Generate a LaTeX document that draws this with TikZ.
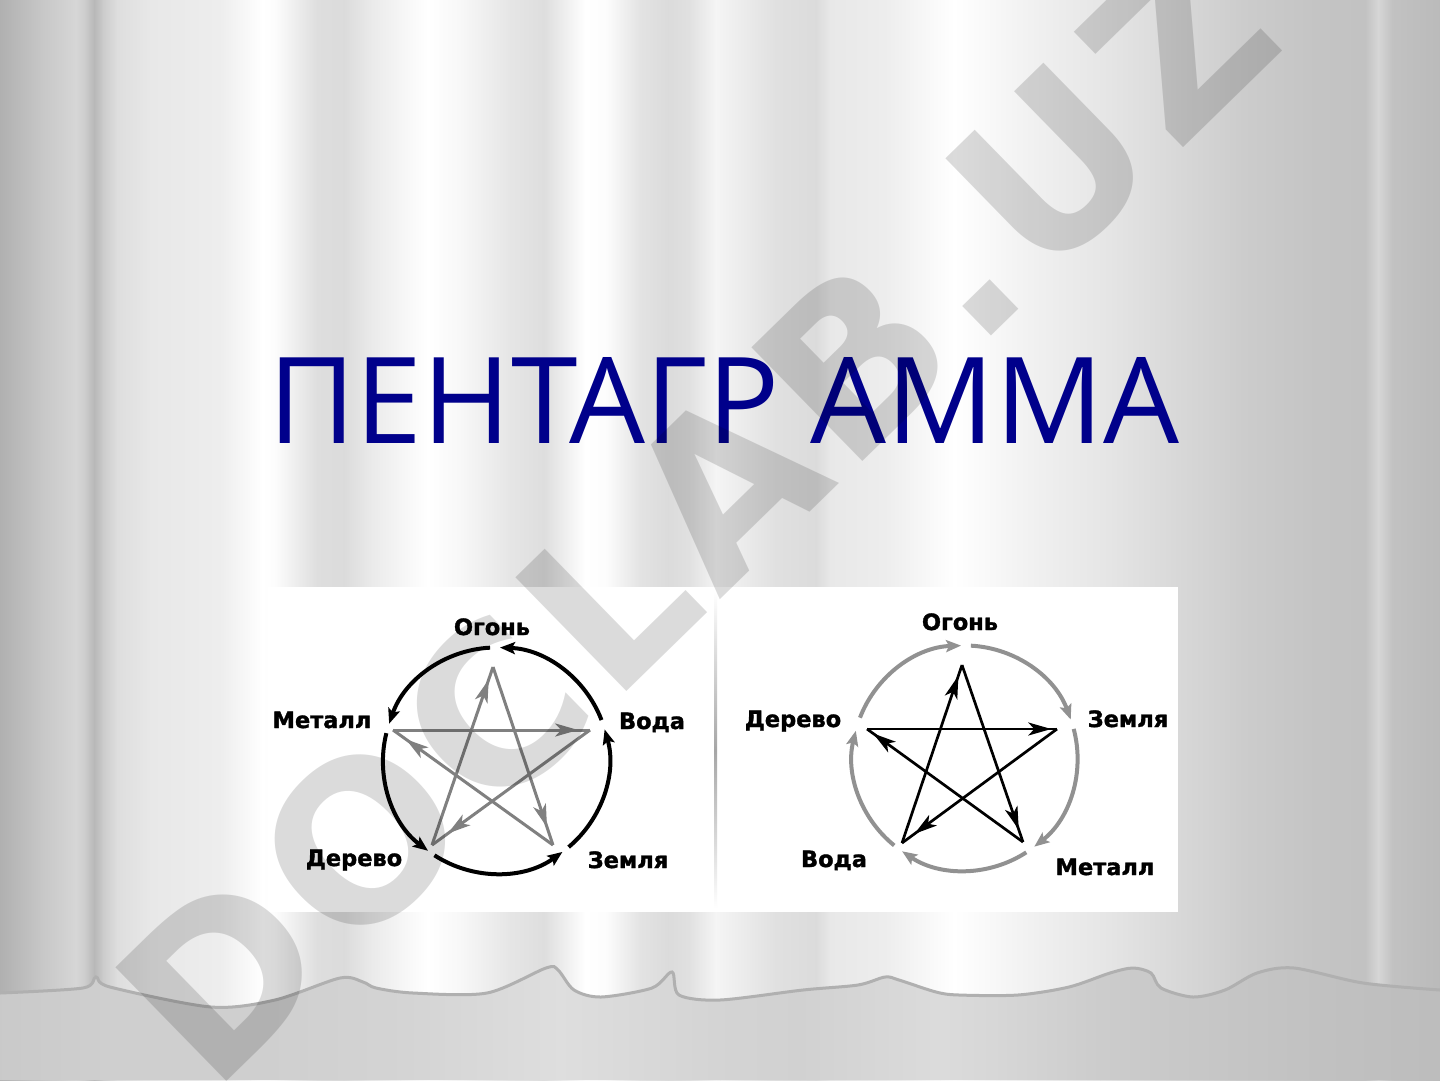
\documentclass[tikz,border=0pt]{standalone}
\usepackage{fontspec}
\newfontfamily\lblfamily{DejaVu Sans}[BoldFeatures={FakeBold=1.5}]
\newfontfamily\titlefamily{Open Sans}
\newfontfamily\wmfamily{DejaVu Sans}[LetterSpace=5]
\usetikzlibrary{arrows.meta,decorations.markings}
\definecolor{titleblue}{RGB}{0,0,139}
\definecolor{stargray}{RGB}{128,128,128}
\definecolor{ringgray}{RGB}{145,145,145}
\definecolor{wavecol}{RGB}{176,176,176}
\tikzset{
  lbl/.style={font=\lblfamily\bfseries\fontsize{22.5}{27}\selectfont, inner sep=0pt, anchor=base, text=black},
  ringL/.style={draw=black, line width=4pt, -{Stealth[length=15pt,width=12pt,inset=3pt]}},
  ringR/.style={draw=ringgray, line width=4pt, -{Stealth[length=15pt,width=12pt,inset=3pt]}},
  starar/.style={postaction={decorate}, decoration={markings, mark=at position #1 with {\arrow{Stealth[length=23pt,width=13pt,inset=6pt]}}}},
  starL/.style={draw=stargray, line width=3pt},
  starR/.style={draw=black, line width=2.7pt},
  titlestyle/.style={font=\titlefamily\fontsize{120}{130}\selectfont, text=titleblue, inner sep=0pt, anchor=base},
  wmstyle/.style={font=\wmfamily\bfseries\fontsize{218}{230}\selectfont, text=black, opacity=0.14, inner sep=0pt, rotate=44.3}
}
\newcommand{\elemlabel}[4]{\node[lbl] (#1) at (#2,#3) {#4};}
\begin{document}
\begin{tikzpicture}[x=1pt,y=-1pt]
\useasboundingbox (0,0) rectangle (1440,1080);
% curtain bands
\foreach \xa/\pa/\xb/\pb in {0/69/41/78, 41/78/76/84, 76/84/85/80, 85/80/94/72, 94/72/103/80, 103/80/117/87, 117/87/151/91, 151/91/220/93, 220/93/262/100, 262/100/275/99, 275/99/317/87, 317/87/344/86, 344/86/372/92, 372/92/427/100, 427/100/461/97, 461/97/510/90, 510/90/544/87, 544/87/585/100, 585/100/606/99, 606/99/640/89, 640/89/668/86, 668/86/689/88, 689/88/716/96, 716/96/775/88, 775/88/816/86, 816/86/830/91, 830/91/885/93, 885/93/954/100, 954/100/968/99, 968/99/1037/94, 1037/94/1106/90, 1106/90/1174/85, 1174/85/1243/80, 1243/80/1312/77, 1312/77/1365/76, 1365/76/1378/84, 1378/84/1392/76, 1392/76/1440/73}
  {\shade[left color=white!\pa!black, right color=white!\pb!black] (\xa,0) rectangle (\xb+0.6,1080);}
% lower part of the curtain
\begin{scope}
\clip plot[smooth, tension=0.5] coordinates {(0,993) (83,988) (96,977) (110,987) (211,1007) (275,1000) (340,978) (363,982) (376,988) (413,993) (487,993) (546,968) (558,970) (574,990) (601,997) (652,988) (672,972) (679,995) (720,1000) (803,990) (858,985) (885,977) (899,980) (936,992) (959,995) (1018,995) (1069,987) (1110,973) (1133,968) (1151,973) (1161,988) (1193,997) (1225,990) (1257,973) (1294,968) (1363,983) (1440,990)} -- (1440,1080) -- (0,1080) -- cycle;
\foreach \xa/\pa/\xb/\pb in {0/79/100/81, 100/81/250/81, 250/81/400/83, 400/83/560/87, 560/87/640/85, 640/85/720/83, 720/83/800/82, 800/82/940/86, 940/86/1000/84, 1000/84/1100/80, 1100/80/1300/76, 1300/76/1440/74}
  {\shade[left color=white!\pa!black, right color=white!\pb!black] (\xa,900) rectangle (\xb+0.6,1080);}
\end{scope}
\draw[wavecol, line width=3pt] plot[smooth, tension=0.5] coordinates {(0,993) (83,988) (96,977) (110,987) (211,1007) (275,1000) (340,978) (363,982) (376,988) (413,993) (487,993) (546,968) (558,970) (574,990) (601,997) (652,988) (672,972) (679,995) (720,1000) (803,990) (858,985) (885,977) (899,980) (936,992) (959,995) (1018,995) (1069,987) (1110,973) (1133,968) (1151,973) (1161,988) (1193,997) (1225,990) (1257,973) (1294,968) (1363,983) (1440,990)};
% title
\node[titlestyle] (title) at (724,443) {ПЕНТАГР АММА};
% white panel and divider
\fill[white] (268,587) rectangle (1178,912);
\shade[top color=white, bottom color=white, middle color=black!35] (714.5,592) rectangle (717,908);
% ---------- left diagram ----------
\coordinate (LC) at (496,760.5);
\coordinate (LO) at (493,667);
\coordinate (LM) at (393,730);
\coordinate (LV) at (590,730);
\coordinate (LD) at (432,845);
\coordinate (LZ) at (553,845);
\draw[ringL] ([shift={(-21:113)}]LC) arc[start angle=-21, end angle=-88, radius=113];
\draw[ringL] ([shift={(-93:113)}]LC) arc[start angle=-93, end angle=-161, radius=113];
\draw[ringL] ([shift={(-166:113)}]LC) arc[start angle=-166, end angle=-233, radius=113];
\draw[ringL] ([shift={(-237:113)}]LC) arc[start angle=-237, end angle=-306, radius=113];
\draw[ringL] ([shift={(-310:113)}]LC) arc[start angle=-310, end angle=-376, radius=113];
\draw[starL, starar=0.9] (LO) -- (LZ);
\draw[starL, starar=0.92] (LZ) -- (LM);
\draw[starL, starar=0.94] (LM) -- (LV);
\draw[starL, starar=0.9] (LV) -- (LD);
\draw[starL, starar=0.93] (LD) -- (LO);
\elemlabel{lOgon}{492}{635}{Огонь}
\elemlabel{lMet}{322}{728}{Металл}
\elemlabel{lVod}{652}{729}{Вода}
\elemlabel{lDer}{354}{866}{Дерево}
\elemlabel{lZem}{628}{868}{Земля}
% ---------- right diagram ----------
\coordinate (RC) at (965,758);
\coordinate (RO) at (962,665);
\coordinate (RD) at (867,729);
\coordinate (RZ) at (1057,729);
\coordinate (RV) at (902,843);
\coordinate (RM) at (1023,842);
\draw[ringR] ([shift={(-159:112.5)}]RC) arc[start angle=-159, end angle=-92, radius=112.5];
\draw[ringR] ([shift={(-87:112.5)}]RC) arc[start angle=-87, end angle=-20, radius=112.5];
\draw[ringR] ([shift={(-15:112.5)}]RC) arc[start angle=-15, end angle=52, radius=112.5];
\draw[ringR] ([shift={(57:112.5)}]RC) arc[start angle=57, end angle=124, radius=112.5];
\draw[ringR] ([shift={(129:112.5)}]RC) arc[start angle=129, end angle=194, radius=112.5];
\draw[starR, starar=0.93] (RO) -- (RM);
\draw[starR, starar=0.96] (RM) -- (RD);
\draw[starR, starar=0.97] (RD) -- (RZ);
\draw[starR, starar=0.92] (RZ) -- (RV);
\draw[starR, starar=0.94] (RV) -- (RO);
\elemlabel{rOgon}{960}{630}{Огонь}
\elemlabel{rDer}{793}{727}{Дерево}
\elemlabel{rZem}{1128}{727}{Земля}
\elemlabel{rVod}{834}{867}{Вода}
\elemlabel{rMet}{1105}{875}{Металл}
% watermark
\node[wmstyle] (wm) at (696,513) {DOCLAB.UZ};
\end{tikzpicture}
\end{document}
